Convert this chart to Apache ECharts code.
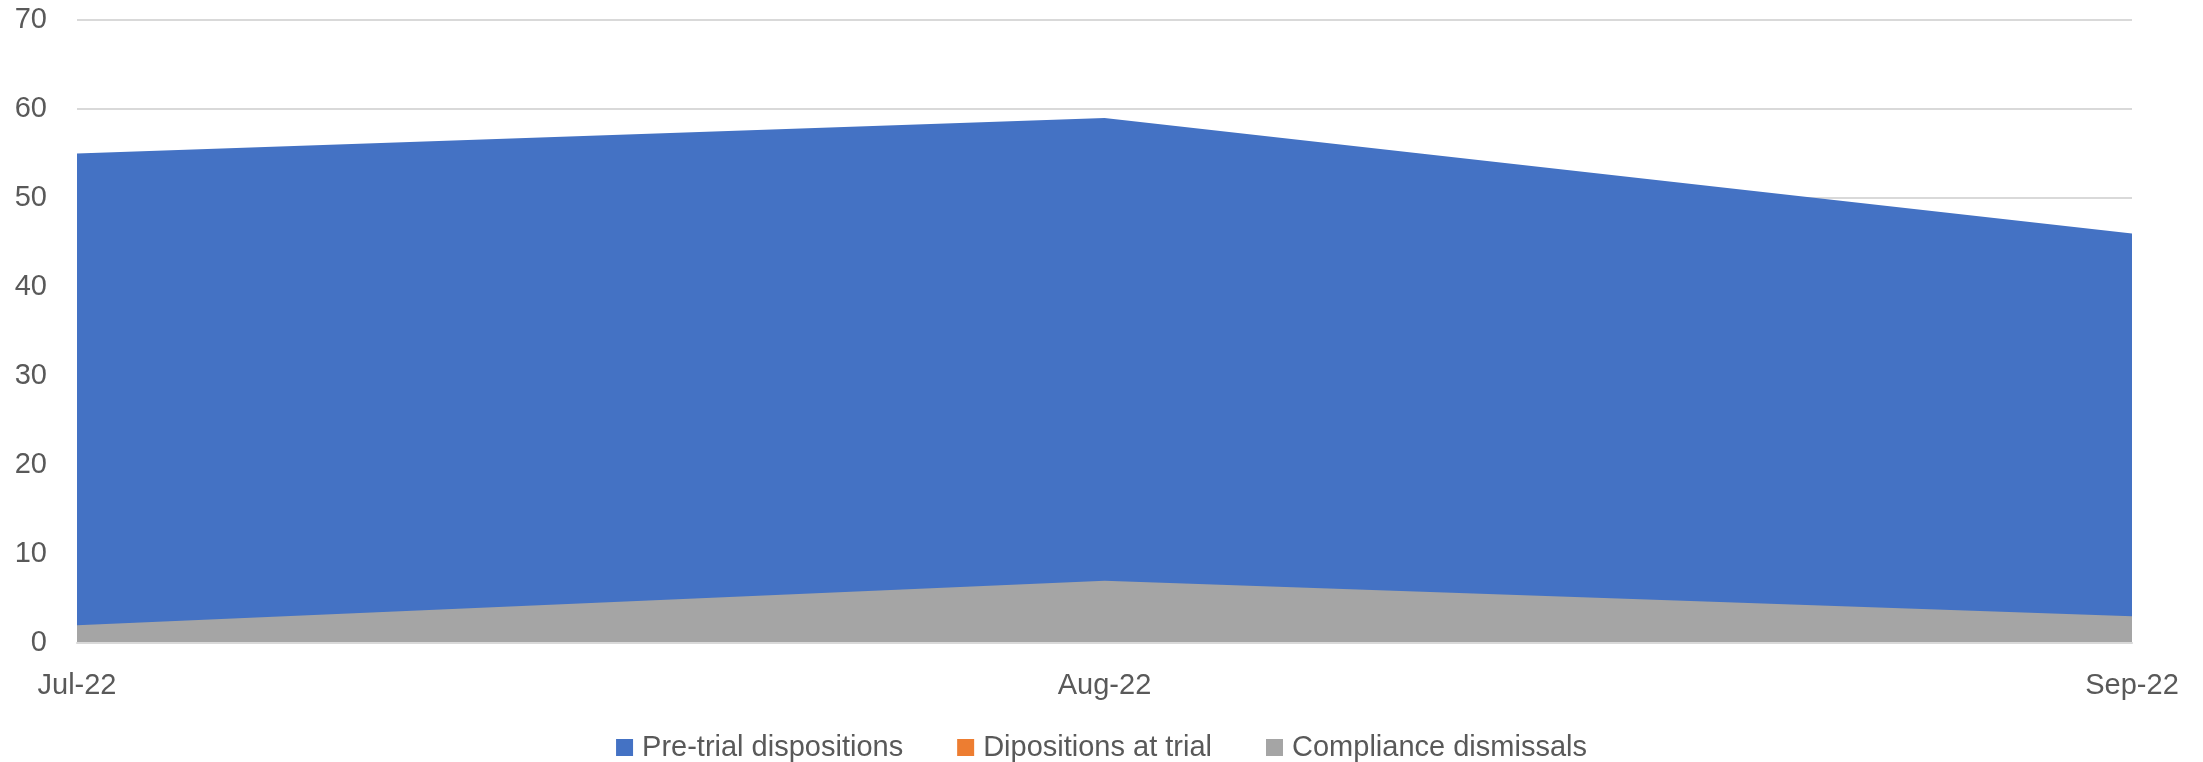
<!DOCTYPE html>
<html>
<head>
<meta charset="utf-8">
<script src="https://cdn.jsdelivr.net/npm/echarts@6/dist/echarts.min.js"></script>
<style>
html,body{margin:0;padding:0;background:#fff;}
#chart{width:2203px;height:762px;}
</style>
</head>
<body>
<div id="chart"></div>
<script>
const categories = ['Jul-22', 'Aug-22', 'Sep-22'];
const pretrial = [55, 59, 46];
const atTrial = [0, 0, 0];
const compliance = [2, 7, 3];
const seriesNames = ['Pre-trial dispositions', 'Dipositions at trial', 'Compliance dismissals'];
const colors = ['#4472C4', '#ED7D31', '#A5A5A5'];

const FONT = "'Liberation Sans', Arial, sans-serif";
const chart = echarts.init(document.getElementById('chart'));
const mk = (name, data, color) => ({
  name: name,
  type: 'line',
  data: data,
  showSymbol: false,
  symbol: 'none',
  lineStyle: { width: 0, color: color },
  itemStyle: { color: color },
  areaStyle: { color: color, opacity: 1 },
  emphasis: { disabled: true }
});
chart.setOption({
  animation: false,
  color: colors,
  grid: { left: 77, right: 71, top: 20, bottom: 119, containLabel: false },
  legend: {
    top: 728,
    left: 'center',
    icon: 'rect',
    itemWidth: 17,
    itemHeight: 17,
    itemGap: 54,
    textStyle: { fontFamily: FONT, fontSize: 29, color: '#595959', padding: [0, 0, 0, 4] },
    data: seriesNames
  },
  xAxis: {
    type: 'category',
    data: categories,
    boundaryGap: false,
    axisTick: { show: false },
    axisLine: { show: true, lineStyle: { color: '#d9d9d9', width: 2 } },
    axisLabel: { fontFamily: FONT, fontSize: 29, color: '#595959', margin: 28 },
    splitLine: { show: false },
    z: 10
  },
  yAxis: {
    type: 'value',
    min: 0,
    max: 70,
    interval: 10,
    axisLine: { show: false },
    axisTick: { show: false },
    axisLabel: { fontFamily: FONT, fontSize: 29, color: '#595959', margin: 30 },
    splitLine: { lineStyle: { color: '#d9d9d9', width: 2 } }
  },
  series: [
    mk(seriesNames[0], pretrial, colors[0]),
    mk(seriesNames[1], atTrial, colors[1]),
    mk(seriesNames[2], compliance, colors[2])
  ]
});
</script>
</body>
</html>
